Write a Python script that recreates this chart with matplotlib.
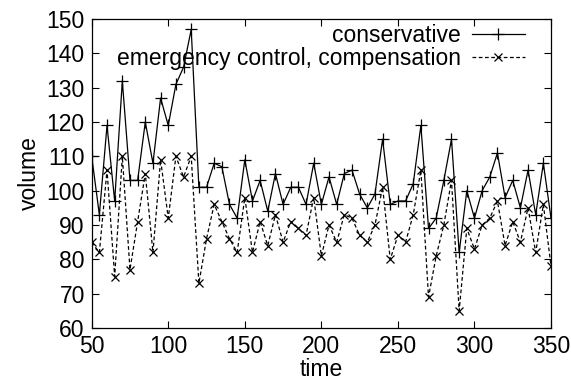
import matplotlib
matplotlib.use("Agg")
import matplotlib.pyplot as plt

# sampled every 5 time units
time = list(range(50, 351, 5))
conservative = [110, 93, 119, 97, 132, 103, 103, 120,
                108, 127, 119, 131, 136, 147, 101, 101,
                108, 107, 96, 92, 109, 97, 103, 94,
                105, 96, 101, 101, 96, 108, 96, 104,
                96, 105, 106, 99, 95, 99, 115, 96,
                97, 97, 102, 119, 89, 92, 103, 115,
                82, 100, 92, 100, 104, 111, 98, 103,
                95, 106, 93, 108, 92]
emergency = [85, 82, 106, 75, 110, 77, 91, 105,
             82, 109, 92, 110, 104, 110, 73, 86,
             96, 91, 86, 82, 98, 82, 91, 84,
             93, 85, 91, 89, 87, 98, 81, 90,
             85, 93, 92, 87, 85, 90, 101, 80,
             87, 85, 93, 106, 69, 81, 90, 103,
             65, 89, 83, 90, 92, 97, 84, 91,
             85, 95, 82, 96, 78]
xticks = [50, 100, 150, 200, 250, 300, 350]
yticks = [60, 70, 80, 90, 100, 110, 120, 130, 140, 150]

plt.rcParams["font.family"] = ["Liberation Sans", "DejaVu Sans"]
FS = 16.5

fig = plt.figure(figsize=(5.71, 3.82), dpi=100)
ax = fig.add_axes([0.1606, 0.1414, 0.8044, 0.8086])

ax.plot(time, conservative, color="black", lw=0.9, marker="+", ms=9, mew=0.9,
        label="conservative")
ax.plot(time, emergency, color="black", lw=0.9, ls=(0, (3, 2)), marker="x", ms=6,
        mew=0.9, label="emergency control, compensation")

ax.set_xlim(50, 350)
ax.set_ylim(60, 150)
ax.set_xticks(xticks)
ax.set_yticks(yticks)
ax.tick_params(direction="in", top=True, right=True, labelsize=FS, length=5,
               width=0.8, pad=5)
for s in ax.spines.values():
    s.set_linewidth(0.9)
ax.set_xlabel("time", fontsize=FS, labelpad=0)
ax.set_ylabel("volume", fontsize=FS, labelpad=4)

ax.legend(loc="upper right", bbox_to_anchor=(0.943, 0.985), frameon=False,
          markerfirst=False, fontsize=FS, handlelength=2.3, handletextpad=0.5,
          borderaxespad=0, borderpad=0, labelspacing=0.0, alignment="right")

fig.savefig("out.png", dpi=100)
